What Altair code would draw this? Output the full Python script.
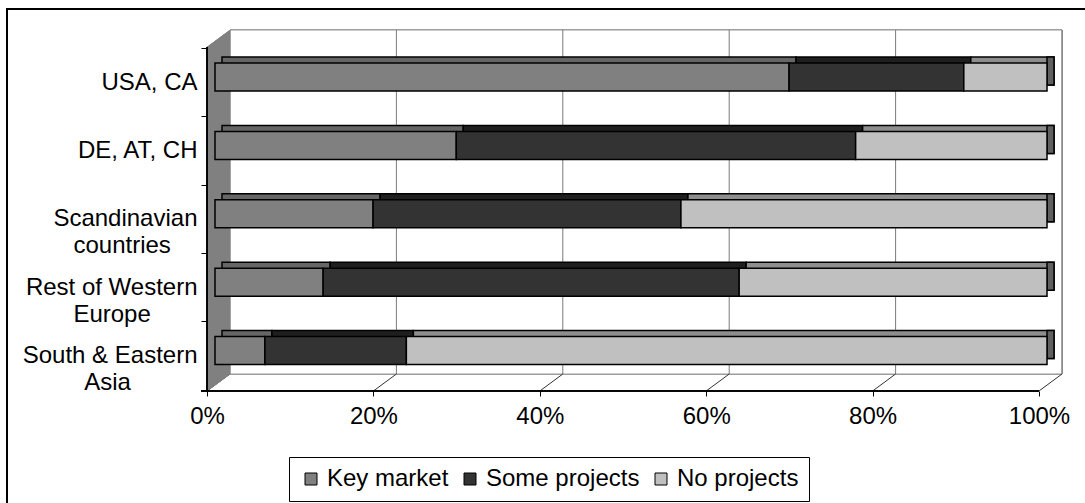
import json
import altair as alt
import pandas as pd

# ---------------- data ----------------
categories = ["USA, CA", "DE, AT, CH", "Scandinavian countries",
              "Rest of Western Europe", "South & Eastern Asia"]
NB = "\u00a0"
ZW = "\u200b"  # keeps the trailing padding from being trimmed
label_lines = [["USA, CA"], ["DE, AT, CH"], ["Scandinavian", "countries" + NB * 4 + ZW],
               ["Rest of Western", "Europe" + NB * 7 + ZW], ["South & Eastern", "Asia" + NB * 10 + ZW]]
series = ["Key market", "Some projects", "No projects"]
key_market = [69, 29, 19, 13, 6]
some_projects = [21, 48, 37, 50, 17]
no_projects = [10, 23, 44, 37, 77]
x_ticks = [0, 20, 40, 60, 80, 100]

# ---------------- styles ----------------
front_colors = ["#808080", "#333333", "#c0c0c0"]
top_colors = ["#666666", "#1f1f1f", "#8e8e8e"]
side_color = "#606060"
wall_color = "#808080"
FONT = "Liberation Sans"
FS = 24
W, H = 832, 361
BACK_DX, BACK_DY = 15, 17
FRONT_DX = -8
BAR_DX, BAR_DY = 7, 6
BAR_SIZE = 28

rows = []
for i, c in enumerate(categories):
    for j, vals in enumerate([key_market, some_projects, no_projects]):
        rows.append(dict(category=c, series=series[j], value=vals[i], idx=j, top=top_colors[j]))
df = pd.DataFrame(rows)
tot = pd.DataFrame({"category": categories,
                    "total": [a + b + c for a, b, c in zip(key_market, some_projects, no_projects)]})
ticks_df = pd.DataFrame({"pct": x_ticks})

xs = alt.Scale(domain=[0, 100], nice=False, zero=True)
ys = alt.Scale(domain=categories, paddingInner=0, paddingOuter=0.139, align=0.674)

label_expr = "{}[indexof({}, datum.value)]".format(
    json.dumps(label_lines, ensure_ascii=False), json.dumps(categories, ensure_ascii=False))

y_axis = alt.Axis(title=None, domain=False, ticks=True, bandPosition=1, tickExtra=True,
                  tickOffset=5, labelOffset=0,
                  tickSize=6, tickColor="black", tickWidth=1, offset=8, labelPadding=4,
                  labelFont=FONT, labelFontSize=FS, labelColor="black", labelLineHeight=27,
                  labelExpr=label_expr, labelLimit=400, grid=False)
x_axis = alt.Axis(title=None, values=x_ticks, domain=False, grid=False, tickOffset=FRONT_DX,
                  tickSize=5, tickColor="black", labelFont=FONT, labelFontSize=FS,
                  labelColor="black", labelPadding=8, labelFlush=False, labelOverlap=False,
                  labelExpr="datum.value + '%'")


def X(**kw):
    return alt.X(scale=xs, axis=x_axis, title=None, **kw)


def Y():
    return alt.Y("category:N", scale=ys, sort=categories, axis=y_axis, title=None)


base = alt.Chart(df)

# outer frame
frame = alt.Chart(tot).mark_rect(filled=False, stroke="black", strokeWidth=1.5).encode(
    x=alt.value(-208), y=alt.value(-21), x2=alt.value(3000), y2=alt.value(3000))

# back wall
back_wall = alt.Chart(tot).mark_rect(fill="white", stroke="#9a9a9a", strokeWidth=1,
                                     xOffset=BACK_DX, x2Offset=BACK_DX).encode(
    x=X(datum=0), x2=alt.X2(datum=100),
    y=alt.value(0), y2=alt.value(H - BACK_DY))

grid = alt.Chart(ticks_df).mark_rule(color="#7a7a7a", strokeWidth=1, xOffset=BACK_DX).encode(
    x=X(field="pct", type="quantitative"), y=alt.value(0), y2=alt.value(H - BACK_DY))

floor = alt.Chart(ticks_df).mark_rule(color="#333333", strokeWidth=1,
                                      xOffset=BACK_DX, x2Offset=FRONT_DX).encode(
    x=X(field="pct", type="quantitative"), x2="pct:Q",
    y=alt.value(H - BACK_DY), y2=alt.value(H))

hw = (BACK_DX - FRONT_DX) / 2 / (H / 2)
ty = 1 - 2 * BACK_DY / H
wall_path = f"M {-hw:.4f} {-ty:.4f} L {hw:.4f} -1 L {hw:.4f} {ty:.4f} L {-hw:.4f} 1 Z"
left_wall = alt.Chart(tot).mark_point(shape=wall_path, size=H * H, filled=True, color=wall_color,
                                      opacity=1, strokeWidth=0,
                                      xOffset=(BACK_DX + FRONT_DX) / 2).encode(
    x=X(datum=0), y=alt.value(H / 2))

wall_edge = alt.Chart(tot).mark_rule(color="black", strokeWidth=1, xOffset=FRONT_DX).encode(
    x=X(datum=0), y=alt.value(BACK_DY), y2=alt.value(H))

front_axis = alt.Chart(tot).mark_rule(color="black", strokeWidth=1,
                                      xOffset=FRONT_DX - 6, x2Offset=FRONT_DX).encode(
    x=X(datum=0), x2=alt.X2(datum=100), y=alt.value(H))

# bar extrusions (top faces)
tops = base.mark_bar(size=BAR_SIZE, stroke="black", strokeWidth=1.5,
                     xOffset=BAR_DX, x2Offset=BAR_DX, yOffset=-BAR_DY).encode(
    x=X(field="value", type="quantitative", stack="zero"),
    y=Y(),
    fill=alt.Fill("top:N", scale=None, legend=None),
    detail="series:N",
    order=alt.Order("idx:Q"))

caps = alt.Chart(tot).mark_bar(size=BAR_SIZE, stroke="black", strokeWidth=1.5, fill=side_color,
                               x2Offset=BAR_DX, yOffset=-BAR_DY).encode(
    x=X(field="total", type="quantitative"), x2="total:Q",
    y=Y())

fronts = base.mark_bar(size=BAR_SIZE, stroke="black", strokeWidth=1.5, opacity=1).encode(
    x=X(field="value", type="quantitative", stack="zero"),
    y=Y(),
    color=alt.Color("series:N", scale=alt.Scale(domain=series, range=front_colors),
                    legend=alt.Legend(title=None, orient="none", legendX=74, legendY=427,
                                      direction="horizontal", strokeColor="black",
                                      fillColor="white", padding=10, symbolType="square",
                                      symbolSize=144, symbolStrokeColor="black",
                                      symbolStrokeWidth=1, symbolOpacity=1, labelFont=FONT,
                                      labelFontSize=FS, labelColor="black", labelOffset=4,
                                      columnPadding=9, labelLimit=400)),
    order=alt.Order("idx:Q"))

chart = alt.layer(frame, back_wall, grid, floor, left_wall, wall_edge, front_axis,
                  tops, caps, fronts).properties(
    width=W, height=H,
    autosize=alt.AutoSizeParams(type="none"),
    padding={"left": 215, "top": 30, "right": 38, "bottom": 112},
    background="white",
).configure_view(stroke=None)

chart.save("out.html", embed_options={"renderer": "svg", "actions": False})
